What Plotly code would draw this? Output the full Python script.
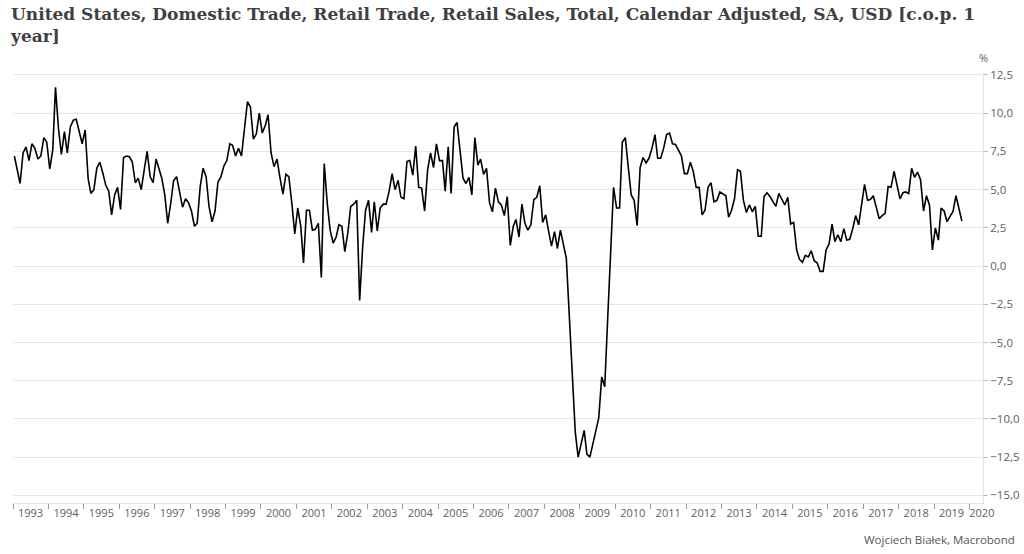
import pandas as pd
import plotly.graph_objects as go

# Monthly y/y % change, Jan 1993 .. Oct 2019
start_month = "1993-01-01"
values = [
    7.2, 6.3, 5.4, 7.4, 7.8, 6.9, 8.0, 7.7, 7.0, 7.2, 8.4, 8.1,          # 1993
    6.35, 7.6, 11.7, 9.0, 7.3, 8.8, 7.4, 9.1, 9.55, 9.6, 8.7, 8.0,       # 1994
    8.9, 5.7, 4.75, 5.0, 6.4, 6.8, 6.1, 5.3, 4.9, 3.35, 4.65, 5.15,      # 1995
    3.7, 7.1, 7.2, 7.15, 6.8, 5.45, 5.75, 5.0, 6.3, 7.5, 5.85, 5.45,     # 1996
    7.0, 6.4, 5.75, 4.65, 2.8, 4.1, 5.6, 5.85, 4.9, 3.85, 4.4, 4.15,     # 1997
    3.6, 2.6, 2.8, 5.2, 6.4, 5.85, 3.9, 2.9, 3.6, 5.5, 5.85, 6.55,       # 1998
    6.9, 8.0, 7.9, 7.2, 7.7, 7.2, 8.95, 10.75, 10.4, 8.3, 8.65, 10.0,    # 1999
    8.7, 9.2, 9.9, 7.4, 6.5, 7.0, 5.8, 4.7, 6.0, 5.85, 4.1, 2.1,         # 2000
    3.8, 2.6, 0.2, 3.65, 3.65, 2.35, 2.4, 2.8, -0.75, 6.7, 4.1, 2.35,    # 2001
    1.5, 1.9, 2.7, 2.6, 0.95, 2.15, 3.9, 4.05, 4.3, -2.25, 1.25, 3.65,   # 2002
    4.3, 2.2, 4.2, 2.3, 3.8, 4.05, 4.05, 4.9, 6.05, 5.0, 5.6, 4.5,       # 2003
    4.4, 6.85, 6.9, 5.95, 7.85, 5.15, 5.1, 3.6, 6.3, 7.4, 6.45, 8.0,     # 2004
    6.9, 6.9, 4.9, 7.8, 4.75, 9.1, 9.4, 7.6, 5.75, 5.4, 5.8, 4.65,       # 2005
    8.4, 6.6, 7.0, 6.0, 6.4, 4.15, 3.55, 5.1, 4.2, 4.0, 3.3, 4.55,       # 2006
    1.35, 2.6, 3.05, 1.9, 4.05, 2.8, 2.35, 2.7, 4.35, 4.5, 5.25, 2.85,   # 2007
    3.35, 2.25, 1.3, 2.25, 1.15, 2.35, 1.5, 0.5, -3.3, -7.25, -10.85, -12.5,  # 2008
    -11.55, -10.75, -12.3, -12.5, -11.65, -10.8, -9.95, -7.25, -7.9, -3.5, 1.0, 5.15,  # 2009
    3.8, 3.8, 8.1, 8.4, 6.5, 4.65, 4.3, 2.65, 6.45, 7.1, 6.75, 7.05,     # 2010
    7.7, 8.6, 7.05, 7.05, 7.7, 8.6, 8.7, 8.0, 7.95, 7.6, 7.2, 6.05,      # 2011
    6.05, 6.8, 6.2, 5.15, 5.15, 3.35, 3.65, 5.15, 5.45, 4.2, 4.3, 4.85,  # 2012
    4.7, 4.6, 3.2, 3.65, 4.4, 6.3, 6.2, 4.3, 3.5, 4.0, 3.55, 3.9,        # 2013
    1.95, 1.95, 4.55, 4.8, 4.55, 4.2, 3.9, 4.75, 4.35, 4.0, 4.5, 2.75,   # 2014
    2.85, 1.05, 0.45, 0.25, 0.7, 0.6, 1.0, 0.35, 0.2, -0.35, -0.35, 1.05,  # 2015
    1.45, 2.75, 1.6, 2.05, 1.6, 2.45, 1.7, 1.75, 2.45, 3.3, 2.7, 4.0,    # 2016
    5.35, 4.3, 4.35, 4.6, 3.8, 3.1, 3.3, 3.45, 5.2, 5.15, 6.2, 5.2,      # 2017
    4.4, 4.8, 4.85, 4.75, 6.4, 5.8, 6.15, 5.65, 3.6, 4.6, 4.0, 1.05,     # 2018
    2.5, 1.7, 3.8, 3.6, 2.9, 3.25, 3.55, 4.6, 3.8, 2.95,                 # 2019
]
years = list(range(1993, 2021))
y_ticks = [-15.0, -12.5, -10.0, -7.5, -5.0, -2.5, 0.0, 2.5, 5.0, 7.5, 10.0, 12.5]

title_text = ("United States, Domestic Trade, Retail Trade, Retail Sales, Total, Calendar Adjusted, SA, USD [c.o.p. 1"
              "<br>year]")
source_text = "Wojciech Białek, Macrobond"

dates = pd.date_range(start_month, periods=len(values), freq="MS") + pd.Timedelta(days=14)

label_pos = [f"{y}-07-01" for y in years[:-1]] + ["2020-05-08"]
boundary_pos = [f"{y}-01-01" for y in years]

fig = go.Figure()
fig.add_trace(go.Scatter(x=dates, y=values, mode="lines",
                         line=dict(color="#000000", width=1.6), hoverinfo="skip"))

x_font = dict(family="Open Sans", size=11, color="#5e5e5e")
y_font = dict(family="Open Sans", size=11.5, color="#5e5e5e")
fig.update_layout(
    width=1024, height=554,
    margin=dict(l=13, r=41, t=73, b=51, autoexpand=False),
    paper_bgcolor="white", plot_bgcolor="white",
    separators=", ",
    showlegend=False,
    xaxis=dict(type="date", range=["1993-01-01", "2020-05-20"], automargin=False,
               tickmode="array", tickvals=label_pos, ticktext=[str(y) for y in years],
               ticks="", showgrid=False, zeroline=False,
               showline=True, linecolor="#e3e3e3", linewidth=1,
               tickfont=x_font,
               minor=dict(tickmode="array", tickvals=boundary_pos, ticks="outside",
                          ticklen=5, tickcolor="#9a9a9a", tickwidth=1, showgrid=False)),
    yaxis=dict(side="right", range=[-15.5, 12.63], tickmode="array", tickvals=y_ticks,
               automargin=False,
               tickformat=".1f", ticks="outside", ticklen=4, tickcolor="#bdbdbd",
               showgrid=True, gridcolor="#e6e6e6", gridwidth=1, zeroline=False,
               showline=True, linecolor="#e3e3e3", linewidth=1,
               tickfont=y_font),
    annotations=[
        dict(text=f"<b>{title_text}</b>", xref="paper", yref="paper", x=-0.0055, y=1.166,
             xanchor="left", yanchor="top", align="left", showarrow=False,
             font=dict(family="DejaVu Serif", size=17, color="#404040")),
        dict(text="%", xref="paper", yref="paper", x=1.0, y=1.037, xanchor="center",
             yanchor="middle", showarrow=False, font=dict(family="Open Sans", size=11, color="#5e5e5e")),
        dict(text=source_text, xref="paper", yref="paper", x=1.035, y=-0.085,
             xanchor="right", yanchor="middle", showarrow=False,
             font=dict(family="Open Sans", size=11.5, color="#555555")),
    ],
)

fig.write_html("out.html", config={"displayModeBar": False},
               post_script="document.body.style.margin='0';")
